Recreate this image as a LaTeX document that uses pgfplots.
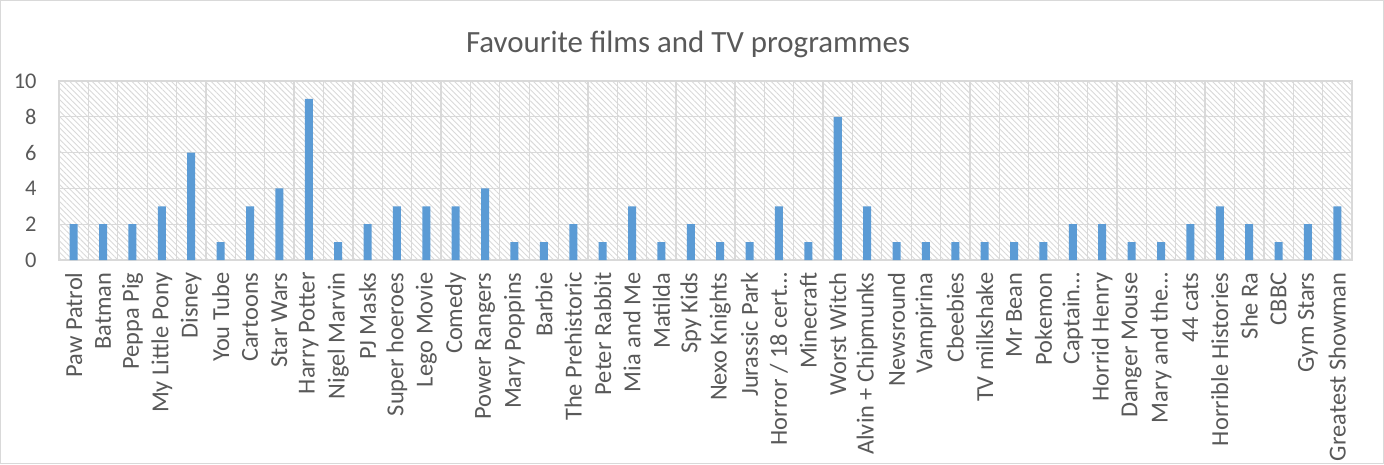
\documentclass[border=0pt]{standalone}
\usepackage{pgfplots}
\pgfplotsset{compat=1.18}
\usepackage{fontspec}
\setmainfont{Carlito}
\usetikzlibrary{patterns.meta}
\definecolor{barblue}{HTML}{5B9BD5}
\definecolor{gridgray}{HTML}{D9D9D9}
\definecolor{txtgray}{HTML}{595959}
\begin{document}
\begin{tikzpicture}
\begin{axis}[
    scale only axis,
    width=1293bp,
    height=179bp,
    ybar,
    bar width=8bp,
    xmin=-0.5, xmax=43.5,
    ymin=0, ymax=10,
    ytick={0,2,...,10},
    xtick={0,...,43},
    xticklabels={Paw Patrol, Batman, Peppa Pig, My Little Pony, Disney, You Tube, Cartoons, Star Wars, Harry Potter, Nigel Marvin, PJ Masks, Super hoeroes, Lego Movie, Comedy, Power Rangers, Mary Poppins, Barbie, The Prehistoric, Peter Rabbit, Mia and Me, Matilda, Spy Kids, Nexo Knights, Jurassic Park, Horror / 18 cert\ldots, Minecraft, Worst Witch, Alvin + Chipmunks, Newsround, Vampirina, Cbeebies, TV milkshake, Mr Bean, Pokemon, Captain\ldots, Horrid Henry, Danger Mouse, Mary and the\ldots, 44 cats, Horrible Histories, She Ra, CBBC, Gym Stars, Greatest Showman},
    x tick label style={rotate=90, anchor=east, font=\fontsize{24.5}{26}\selectfont, text=txtgray},
    xticklabel shift=9bp,
    y tick label style={font=\fontsize{22.5}{24}\selectfont, text=txtgray},
    yticklabel shift=19bp,
    /pgf/number format/assume math mode=true,
    minor xtick={-0.5,0.5,...,43.5},
    minor x grid style={gridgray, line width=1.3bp},
    xminorgrids=true,
    ymajorgrids=true,
    major grid style={gridgray, line width=1.3bp},
    axis line style={gridgray, line width=1.3bp},
    major tick length=0pt,
    minor tick length=0pt,
    axis background/.style={pattern={Lines[angle=-45,distance=4bp,line width=0.9bp]}, pattern color=gridgray},
]
\addplot[fill=barblue, draw=none] coordinates {
    (0,2) (1,2) (2,2) (3,3) (4,6) (5,1) (6,3) (7,4) (8,9) (9,1)
    (10,2) (11,3) (12,3) (13,3) (14,4) (15,1) (16,1) (17,2) (18,1) (19,3)
    (20,1) (21,2) (22,1) (23,1) (24,3) (25,1) (26,8) (27,3) (28,1) (29,1)
    (30,1) (31,1) (32,1) (33,1) (34,2) (35,2) (36,1) (37,1) (38,2) (39,3)
    (40,2) (41,1) (42,2) (43,3)
};
\end{axis}
\node[font=\fontsize{31}{33}\selectfont, text=txtgray] at ([xshift=629bp,yshift=37bp]current axis.north west) {Favourite films and TV programmes};
\draw[gridgray, line width=1bp, use as bounding box] ([xshift=-58.5bp,yshift=-203.5bp]current axis.south west) rectangle ([xshift=31.5bp,yshift=80.5bp]current axis.north east);
\end{tikzpicture}
\end{document}
